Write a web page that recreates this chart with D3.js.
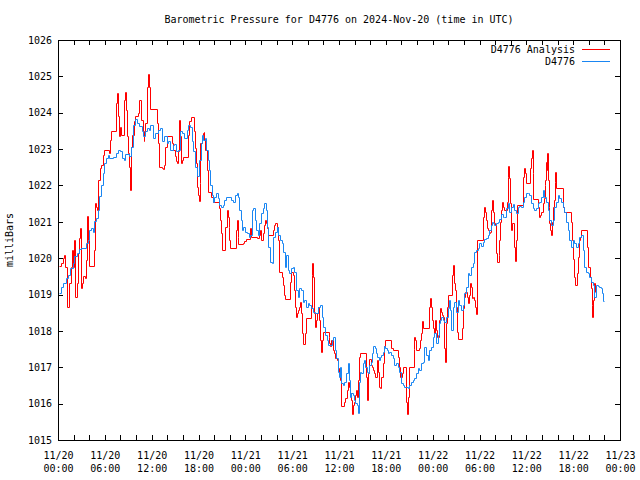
<!DOCTYPE html>
<html>
<head>
<meta charset="utf-8">
<script src="https://cdn.jsdelivr.net/npm/d3@7"></script>
<style>
  html, body { margin: 0; padding: 0; background: #fff; }
  svg text { font-family: "DejaVu Sans Mono", "Liberation Mono", monospace; font-size: 10px; fill: #000; }
</style>
</head>
<body>
<svg id="chart" width="640" height="480"></svg>
<script>
// ---- DATA (time = hours after 2024-11-20 00:00 UTC, value = milliBars) ----
const chartTitle = "Barometric Pressure for D4776 on 2024-Nov-20 (time in UTC)";
const yAxisTitle = "milliBars";
const seriesNames = ["D4776 Analysis", "D4776"];
const yTicks = [1015,1016,1017,1018,1019,1020,1021,1022,1023,1024,1025,1026];
const xLabelHours = [0,6,12,18,24,30,36,42,48,54,60,66,72];

const analysisData = [
[0.08,1019.79],[0.38,1019.86],[0.59,1020.00],[0.81,1020.09],[0.94,1019.77],[1.11,1018.67],[1.45,1019.31],[1.62,1019.77],[1.75,1020.23],[1.87,1019.77],[2.00,1020.50],[2.13,1018.94],[2.47,1019.31],[2.60,1020.14],[2.73,1020.55],[2.86,1020.83],[2.94,1019.17],[3.07,1019.31],[3.24,1019.50],[3.41,1019.45],[3.58,1019.95],[3.75,1021.17],[3.88,1020.50],[4.01,1019.79],[4.57,1020.23],[4.78,1021.51],[4.91,1021.42],[5.04,1021.33],[5.16,1022.16],[5.33,1022.48],[5.55,1022.57],[5.72,1022.84],[5.85,1022.98],[6.49,1022.89],[6.66,1023.26],[6.83,1023.49],[7.47,1024.28],[7.60,1024.54],[7.72,1023.90],[7.85,1023.35],[7.98,1023.62],[8.11,1023.39],[8.45,1024.36],[8.58,1024.56],[8.66,1024.08],[8.79,1023.35],[8.92,1022.89],[9.05,1022.52],[9.22,1021.88],[9.35,1023.07],[9.52,1023.39],[9.69,1023.76],[9.90,1023.92],[10.20,1023.99],[10.41,1024.36],[10.67,1023.81],[10.84,1023.49],[10.97,1023.21],[11.06,1023.39],[11.18,1023.73],[11.40,1024.72],[11.53,1025.07],[11.65,1024.72],[11.78,1024.10],[12.68,1023.72],[12.85,1023.17],[12.98,1022.52],[13.32,1022.48],[13.49,1022.45],[13.62,1022.57],[13.75,1023.07],[13.92,1023.35],[14.60,1023.17],[14.77,1022.98],[14.94,1022.80],[15.11,1022.66],[15.24,1022.61],[15.37,1022.94],[15.50,1023.81],[15.62,1023.35],[15.75,1022.61],[15.88,1022.71],[16.05,1022.78],[16.61,1023.39],[16.82,1023.76],[17.00,1023.87],[17.38,1023.49],[17.55,1023.03],[17.68,1022.61],[17.80,1021.97],[17.97,1021.74],[18.10,1021.56],[18.19,1022.08],
[18.24,1023.16],[18.41,1023.34],[18.53,1023.43],[18.66,1023.48],[18.75,1023.25],[18.88,1022.97],[19.05,1022.42],[19.17,1021.83],[19.60,1021.69],[19.81,1021.55],[20.58,1021.37],[20.75,1021.05],[20.88,1020.68],[21.01,1020.22],[21.44,1020.87],[21.61,1021.32],[21.74,1021.14],[21.86,1020.87],[21.95,1020.50],[22.08,1020.27],[22.80,1020.77],[22.89,1021.05],[23.02,1020.59],[23.10,1020.38],[23.74,1020.41],[23.87,1020.48],[24.08,1020.53],[24.60,1020.82],[24.73,1020.59],[25.54,1020.55],[25.79,1020.64],[25.92,1020.77],[26.05,1020.50],[26.22,1020.68],[26.35,1020.91],[26.52,1021.05],[26.65,1020.96],[26.77,1020.82],[26.90,1020.64],[27.59,1020.77],[27.71,1020.91],[27.84,1020.96],[28.01,1020.87],[28.14,1020.50],[28.27,1019.63],[28.70,1019.49],[28.87,1019.26],[28.99,1018.99],[29.12,1018.87],[29.76,1019.35],[29.89,1019.63],[30.06,1019.54],[30.19,1019.12],[30.32,1018.67],[30.45,1018.37],[30.57,1018.48],[30.70,1018.57],[30.83,1018.67],[31.00,1018.80],[31.13,1018.48],[31.26,1017.93],[31.39,1017.64],[31.69,1017.93],[31.77,1018.35],[32.41,1018.67],[32.50,1019.54],[32.58,1019.88],[32.67,1019.49],[32.75,1018.48],[32.88,1018.10],[33.05,1018.30],[33.18,1018.48],[33.31,1018.67],[33.44,1018.30],[33.56,1017.75],[33.65,1017.41],[33.78,1017.75],[33.91,1017.96],[34.67,1017.84],[34.76,1017.66],[34.89,1017.58],[35.02,1017.75],[35.27,1017.47],[35.40,1017.38],[35.53,1017.25],
[35.74,1017.20],[35.87,1016.97],[36.04,1016.88],[36.17,1016.65],[36.29,1015.94],[36.68,1016.05],[36.81,1016.15],[36.98,1016.37],[37.15,1016.60],[37.32,1016.47],[37.45,1016.28],[37.53,1016.10],[37.66,1015.71],[37.74,1015.96],[37.87,1016.05],[38.00,1016.24],[38.17,1016.37],[38.30,1016.19],[38.43,1016.65],[38.60,1017.29],[38.73,1017.38],[39.50,1016.74],[39.62,1016.10],[39.75,1016.83],[39.88,1017.22],[40.05,1017.06],[40.22,1017.02],[40.39,1016.92],[40.52,1016.83],[40.65,1016.74],[40.82,1017.20],[40.95,1016.88],[41.08,1016.47],[41.29,1016.42],[41.42,1016.74],[41.59,1017.11],[41.72,1017.58],[41.84,1017.75],[42.66,1017.52],[42.87,1017.47],[43.51,1017.29],[43.64,1017.02],[43.81,1016.74],[44.02,1016.83],[44.15,1017.02],[44.58,1016.05],[44.66,1015.71],[44.79,1016.19],[44.92,1017.02],[45.56,1017.49],[45.64,1017.84],[45.77,1017.75],[45.90,1017.47],[46.20,1017.52],[46.37,1017.75],[46.50,1017.93],[46.63,1018.28],[46.80,1018.07],[47.48,1018.67],[47.61,1018.90],[47.74,1018.67],[47.86,1018.30],[48.03,1018.07],[48.21,1017.93],[48.33,1018.30],[48.46,1018.02],[48.59,1017.84],[48.76,1018.30],[48.89,1018.62],[49.02,1018.53],[49.15,1018.44],[49.32,1018.39],[49.49,1017.52],[49.62,1017.15],[49.70,1018.21],[49.83,1018.67],[49.96,1018.99],[50.47,1019.54],[50.60,1019.81],[50.72,1019.31],[50.85,1019.12],[50.98,1018.67],[51.11,1017.98],[51.24,1017.77],[51.79,1018.07],[51.92,1018.62],[52.05,1018.94],[52.18,1019.08],[52.35,1018.94],[52.48,1018.76],[52.60,1018.99],[52.78,1019.31],[52.90,1019.22],[53.03,1018.90],[53.20,1018.94],[53.33,1018.85],[53.46,1018.67],[53.54,1018.46],
[53.72,1020.50],[54.40,1021.14],[54.62,1021.42],[54.75,1021.28],[54.83,1021.05],[54.96,1020.82],[55.09,1020.77],[55.26,1020.68],[55.39,1020.73],[55.51,1021.32],[55.64,1021.60],[55.77,1021.28],[55.90,1020.96],[56.03,1020.91],[56.11,1020.13],[56.24,1019.90],[56.45,1020.09],[56.54,1020.50],[56.67,1021.00],[56.79,1021.32],[56.92,1021.55],[57.05,1021.42],[57.18,1021.32],[57.48,1021.55],[57.61,1022.24],[57.69,1022.53],[57.82,1022.20],[57.95,1021.51],[58.08,1020.77],[58.20,1020.96],[58.46,1020.32],[58.59,1019.93],[58.72,1020.50],[58.84,1021.46],[59.53,1022.24],[59.66,1022.47],[59.78,1022.33],[59.91,1022.06],[60.47,1022.47],[60.60,1022.75],[60.68,1022.97],[60.81,1022.33],[60.89,1021.62],[61.49,1021.42],[61.62,1021.12],[61.79,1021.19],[61.92,1021.28],[62.09,1021.51],[62.22,1021.65],[62.35,1022.01],[62.43,1022.15],[62.52,1022.65],[62.60,1022.42],[62.69,1022.90],[62.77,1022.15],[62.86,1021.42],[62.94,1020.96],[63.07,1020.77],[63.20,1020.64],[63.29,1021.00],[63.41,1021.42],[63.54,1021.60],[63.63,1022.10],[63.71,1022.36],[63.84,1021.92],[64.74,1021.42],[64.82,1021.26],[65.76,1021.00],[65.89,1020.50],[66.02,1019.99],[66.15,1019.49],[66.27,1019.26],[66.53,1019.58],[66.66,1020.04],[66.79,1020.50],[66.91,1020.59],[67.04,1020.77],[67.77,1020.32],[67.90,1019.77],[68.15,1019.49],[68.28,1019.17],[68.37,1018.71],[68.45,1018.39],[68.54,1018.85],[68.62,1019.31],[68.75,1019.08],[68.84,1019.08]
];

const stationData = [
[0.08,1019.04],[0.38,1019.22],[0.59,1019.33],[1.02,1019.45],[1.23,1019.54],[1.53,1019.72],[1.87,1019.86],[2.09,1020.05],[2.39,1020.14],[2.64,1020.25],[2.94,1020.28],[3.58,1020.41],[3.80,1020.50],[4.01,1020.78],[4.22,1020.84],[4.44,1020.73],[4.65,1021.01],[4.86,1021.10],[5.08,1021.33],[5.29,1021.70],[5.50,1022.02],[5.72,1022.34],[5.93,1022.61],[6.14,1022.75],[6.36,1022.84],[6.57,1022.75],[7.00,1022.78],[7.43,1022.89],[7.72,1022.98],[7.94,1022.94],[8.19,1022.75],[8.41,1022.71],[8.62,1022.87],[9.13,1022.80],[9.35,1023.07],[9.56,1023.67],[9.86,1023.83],[10.07,1023.72],[10.41,1023.64],[10.71,1023.49],[10.93,1023.35],[11.14,1023.49],[11.40,1023.58],[11.61,1023.53],[11.82,1023.65],[12.12,1023.30],[12.42,1023.44],[12.76,1023.53],[13.06,1023.58],[13.32,1023.21],[13.62,1023.35],[13.92,1023.17],[14.13,1023.21],[14.39,1022.98],[14.68,1023.12],[14.90,1023.15],[15.11,1022.94],[15.33,1022.98],[15.62,1023.49],[15.88,1023.44],[16.18,1023.30],[16.48,1023.53],[16.69,1023.67],[16.90,1023.62],[17.12,1023.21],[17.33,1022.94],[17.59,1022.52],[17.76,1022.25],
[18.11,1022.70],[18.32,1023.16],[18.45,1023.39],[18.62,1023.25],[18.83,1023.30],[18.96,1022.97],[19.17,1022.70],[19.30,1022.42],[19.47,1022.01],[19.69,1021.74],[19.81,1021.55],[20.03,1021.69],[20.24,1021.78],[20.46,1021.65],[20.67,1021.46],[20.88,1021.42],[21.10,1021.46],[21.31,1021.60],[21.52,1021.69],[22.16,1021.60],[22.46,1021.55],[22.72,1021.74],[22.89,1021.80],[23.02,1021.69],[23.23,1021.32],[23.44,1021.05],[23.57,1020.77],[23.74,1020.87],[23.96,1020.73],[24.17,1020.68],[24.43,1020.59],[24.64,1020.64],[24.85,1021.32],[25.02,1021.37],[25.19,1021.05],[25.37,1020.77],[25.58,1020.64],[25.79,1020.96],[26.01,1021.23],[26.22,1021.37],[26.43,1021.51],[26.65,1021.32],[26.77,1020.87],[26.95,1020.32],[27.16,1019.90],[27.37,1019.86],[27.59,1020.59],[27.80,1020.73],[28.01,1020.87],[28.23,1020.64],[28.44,1020.50],[28.65,1020.41],[28.87,1020.18],[29.04,1019.77],[29.21,1020.09],[29.42,1019.67],[29.64,1019.58],[29.85,1019.72],[30.06,1019.77],[30.28,1019.63],[30.49,1019.12],[30.70,1018.94],[30.92,1019.17],[31.13,1019.12],[31.34,1018.80],[31.56,1018.85],[31.77,1018.67],[31.98,1018.76],[32.20,1018.71],[32.41,1018.62],[32.62,1018.53],[32.97,1018.50],[33.27,1018.67],[33.56,1018.71],[33.78,1018.39],[33.99,1018.12],[34.20,1017.89],[34.42,1017.75],[34.63,1017.61],[35.06,1017.75],[35.27,1017.84],[35.49,1017.47],[35.61,1017.25],
[35.82,1016.88],[35.95,1016.74],[36.12,1017.02],[36.25,1016.56],[36.46,1016.51],[36.68,1016.60],[36.89,1016.83],[37.10,1017.11],[37.23,1016.65],[37.40,1016.19],[37.53,1016.28],[37.74,1016.24],[37.96,1016.10],[38.09,1016.01],[38.26,1015.96],[38.39,1015.73],[38.51,1016.60],[38.68,1016.88],[38.86,1016.83],[39.03,1017.11],[39.20,1017.20],[39.37,1017.02],[39.54,1016.88],[39.71,1016.83],[39.88,1017.06],[40.05,1017.15],[40.22,1017.38],[40.39,1017.58],[40.56,1017.52],[40.73,1017.38],[40.90,1017.29],[41.08,1017.20],[41.25,1017.29],[41.42,1017.34],[41.59,1017.43],[41.76,1017.58],[41.93,1017.52],[42.10,1017.47],[42.27,1017.40],[42.44,1017.43],[42.66,1017.34],[42.87,1017.25],[43.08,1017.06],[43.30,1017.11],[43.51,1017.02],[43.72,1016.88],[43.94,1016.56],[44.15,1016.51],[44.36,1016.47],[44.79,1016.42],[45.00,1016.51],[45.22,1016.60],[45.43,1016.65],[45.64,1016.70],[45.86,1016.83],[46.07,1016.97],[46.28,1016.92],[46.50,1017.11],[46.71,1017.15],[46.93,1017.57],[47.14,1017.34],[47.35,1017.20],[47.57,1017.47],[47.78,1017.57],[47.99,1017.84],[48.21,1017.93],[48.42,1017.66],[48.63,1017.89],[48.76,1018.21],[48.93,1018.30],[49.10,1018.39],[49.27,1018.30],[49.49,1018.25],[49.70,1018.39],[49.91,1018.62],[50.04,1018.85],[50.21,1018.57],[50.34,1018.02],[50.55,1018.67],[50.77,1018.80],[50.98,1018.53],[51.19,1018.85],[51.41,1018.71],[51.62,1018.57],[51.84,1018.71],[52.05,1019.03],[52.26,1019.22],[52.48,1019.58],[52.69,1019.54],[52.90,1019.77],[53.12,1019.86],[53.33,1020.18],[53.54,1020.22],
[53.76,1020.27],[53.98,1020.41],[54.19,1020.33],[54.40,1020.45],[54.62,1020.52],[54.83,1020.55],[55.04,1020.64],[55.26,1020.77],[55.47,1020.91],[55.60,1021.00],[55.77,1020.96],[55.90,1020.91],[56.11,1020.96],[56.33,1021.00],[56.54,1021.07],[56.75,1021.21],[56.97,1021.12],[57.18,1021.14],[57.39,1021.37],[57.61,1021.51],[57.82,1021.28],[58.03,1021.42],[58.25,1021.49],[58.46,1021.32],[58.67,1021.23],[58.89,1021.42],[59.10,1021.43],[59.31,1021.42],[59.53,1021.55],[59.74,1021.67],[59.95,1021.78],[60.17,1021.80],[60.38,1021.74],[60.60,1021.51],[60.81,1021.37],[61.02,1021.32],[61.24,1021.37],[61.45,1021.51],[61.66,1021.55],[61.88,1021.69],[62.09,1021.87],[62.30,1021.69],[62.52,1021.55],[62.73,1021.32],[62.94,1021.05],[63.16,1020.91],[63.37,1021.05],[63.58,1021.42],[63.80,1021.55],[64.01,1021.74],[64.22,1021.65],[64.44,1021.55],[64.65,1021.42],[64.87,1021.28],[65.08,1021.00],[65.29,1020.77],[65.51,1020.50],[65.72,1020.32],[65.93,1020.50],[66.15,1020.43],[66.36,1020.32],[66.57,1020.41],[66.79,1020.59],[67.00,1020.64],[67.21,1020.22],[67.43,1019.77],[67.64,1019.63],[67.85,1019.60],[68.07,1019.49],[68.28,1019.35],[68.49,1019.26],[68.71,1018.94],[68.92,1019.26],[69.13,1019.24],[69.35,1019.22],[69.56,1019.17],[69.69,1019.05],[69.86,1018.83],[69.95,1018.83]
];

const seriesColors = ["#ff0000", "#1a86f2"];

// ---- CHART ----
const svg = d3.select("#chart");
const margin = { left: 58, right: 20, top: 40, bottom: 40 };
const W = 640, H = 480;
const base = Date.UTC(2024, 10, 20, 0, 0, 0);
const toDate = h => new Date(base + h * 3600e3);

const x = d3.scaleUtc()
  .domain([toDate(0), toDate(72)])
  .range([margin.left, W - margin.right]);
const y = d3.scaleLinear()
  .domain([1015, 1026])
  .range([H - margin.bottom, margin.top]);

svg.append("rect").attr("width", W).attr("height", H).attr("fill", "#fff");

// tick marks every 2 hours, inward, bottom and top
const tick2h = d3.range(0, 73, 2).map(toDate);
const axB = svg.append("g").attr("transform", `translate(0,${y(1015)})`)
  .call(d3.axisBottom(x).tickValues(tick2h).tickSize(-5).tickFormat(""));
const axT = svg.append("g").attr("transform", `translate(0,${y(1026)})`)
  .call(d3.axisTop(x).tickValues(tick2h).tickSize(-5).tickFormat(""));
// x labels every 6h (two lines)
const fmt = d3.utcFormat("%m/%d|%H:%M");
const axL = svg.append("g").attr("transform", `translate(0,${y(1015)})`)
  .call(d3.axisBottom(x).tickValues(xLabelHours.map(toDate)).tickSize(0).tickFormat(fmt));
axL.selectAll(".tick text").each(function(d) {
  const parts = fmt(d).split("|");
  const t = d3.select(this).text(null).attr("dy", null);
  t.append("tspan").attr("x", 0).attr("y", 19).text(parts[0]);
  t.append("tspan").attr("x", 0).attr("y", 32).text(parts[1]);
});

// y axis left with labels, right mirror
const ayL = svg.append("g").attr("transform", `translate(${x.range()[0]},0)`)
  .call(d3.axisLeft(y).tickValues(yTicks).tickSize(-5).tickPadding(6).tickFormat(d3.format("d")));
const ayR = svg.append("g").attr("transform", `translate(${x.range()[1]},0)`)
  .call(d3.axisRight(y).tickValues(yTicks).tickSize(-5).tickFormat(""));

[axB, axT, axL, ayL, ayR].forEach(g => {
  g.select(".domain").remove();
  g.attr("font-family", null).attr("font-size", null);
  g.selectAll(".tick line").attr("stroke", "#000").attr("shape-rendering", "crispEdges");
  g.selectAll("text").attr("fill", "#000");
});
axL.selectAll(".tick line").remove();

// frame
svg.append("rect")
  .attr("x", x.range()[0]).attr("y", y(1026))
  .attr("width", x.range()[1] - x.range()[0]).attr("height", y(1015) - y(1026))
  .attr("fill", "none").attr("stroke", "#000").attr("shape-rendering", "crispEdges");

// lines (snapped to pixel centres for a crisp 1px step line)
const snap = v => Math.round(v) + 0.5;
const line = d3.line()
  .x(d => snap(x(toDate(d[0]))))
  .y(d => snap(y(d[1])))
  .curve(d3.curveStepAfter);

[analysisData, stationData].forEach((data, i) => {
  svg.append("path")
    .datum(data)
    .attr("d", line)
    .attr("fill", "none")
    .attr("stroke", seriesColors[i])
    .attr("stroke-width", 1);
});

// title
svg.append("text")
  .attr("x", (x.range()[0] + x.range()[1]) / 2)
  .attr("y", 23)
  .attr("text-anchor", "middle")
  .text(chartTitle);

// y axis title
svg.append("text")
  .attr("transform", `translate(13,${(y(1015) + y(1026)) / 2}) rotate(-90)`)
  .attr("text-anchor", "middle")
  .text(yAxisTitle);

// legend
const legend = svg.append("g");
seriesNames.forEach((name, i) => {
  const ly = 49 + i * 12;
  legend.append("text")
    .attr("x", 575).attr("y", ly + 4)
    .attr("text-anchor", "end")
    .text(name);
  legend.append("rect")
    .attr("x", 582).attr("width", 28)
    .attr("y", ly).attr("height", 1)
    .attr("fill", seriesColors[i]);
});
</script>
</body>
</html>
